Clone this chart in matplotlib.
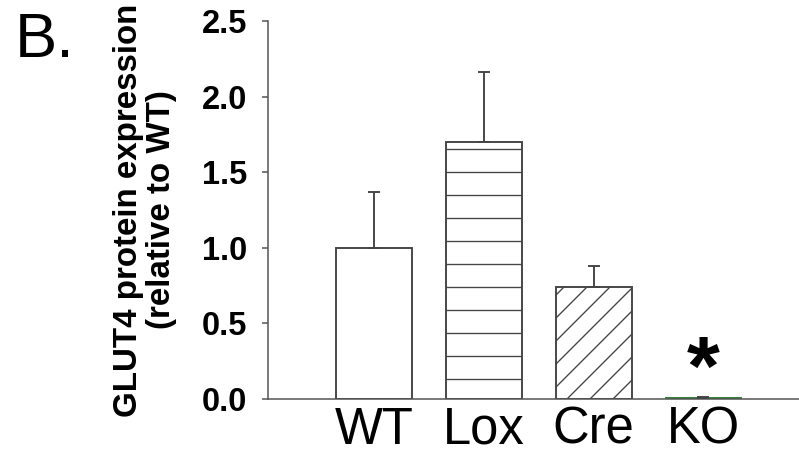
import matplotlib.pyplot as plt

plt.rcParams['font.family'] = ['Liberation Sans', 'DejaVu Sans']
plt.rcParams['hatch.linewidth'] = 0.7
plt.rcParams['hatch.color'] = '#333333'

# group names and values
groups = ['WT', 'Lox', 'Cre', 'KO']
means = [1.00, 1.70, 0.74, 0.008]
sem = [0.37, 0.46, 0.14, 0.004]
hatches = ['', '-', '//', '']
edges = ['#444444', '#444444', '#444444', '#2e7d32']

DPI = 138
fig = plt.figure(figsize=(799 / DPI, 457 / DPI), dpi=DPI)
ax = fig.add_axes([0.3354, 0.1269, 0.6646, 0.827])

x = list(range(len(groups)))
ax.bar(x, means, width=0.69, color='white', edgecolor=edges,
       hatch=hatches, linewidth=1.0, zorder=2)
ax.errorbar(x, means, yerr=[[0] * len(sem), sem], fmt='none',
            ecolor='#444444', elinewidth=1.0, capsize=3.1, capthick=1.0, zorder=3)

# significance mark on KO
ax.text(3, 0.17, '*', ha='center', va='center', fontsize=44,
        fontweight='bold', color='black')

ax.set_xlim(-0.965, 3.87)
ax.set_ylim(0, 2.5)
ax.set_yticks([0, 0.5, 1.0, 1.5, 2.0, 2.5])
ax.set_yticklabels(['0.0', '0.5', '1.0', '1.5', '2.0', '2.5'],
                   fontsize=17, fontweight='bold')
ax.set_xticks(x)
ax.set_xticklabels(groups, fontsize=26.5)
ax.tick_params(axis='x', length=0, pad=3.5)
ax.tick_params(axis='y', direction='out', length=3, width=0.8,
               color='#555555', pad=8)

for s in ['top', 'right']:
    ax.spines[s].set_visible(False)
for s in ['left', 'bottom']:
    ax.spines[s].set_color('#555555')
    ax.spines[s].set_linewidth(0.8)

ax.set_ylabel('GLUT4 protein expression\n(relative to WT)', fontsize=17.3,
              fontweight='bold', labelpad=13, linespacing=1.05)

fig.text(0.018, 0.975, 'B.', fontsize=33, va='top', ha='left')

fig.savefig('out.png', dpi=DPI)
